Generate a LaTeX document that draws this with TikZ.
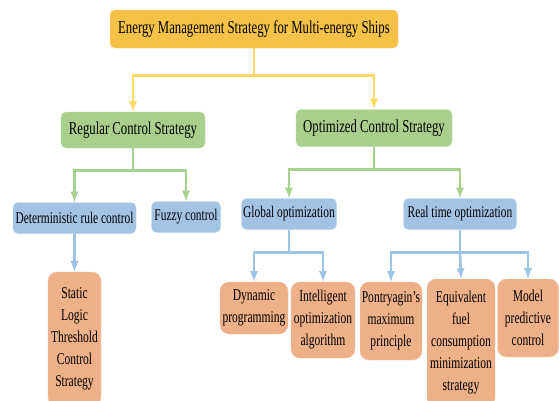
\documentclass[tikz,border=0pt]{standalone}
\usepackage{xcolor}
\usepackage{tikz}
\usepackage{fontspec}
\setmainfont[FakeStretch=0.7]{Liberation Serif}

\definecolor{topgold}{HTML}{F5C146}
\definecolor{boxgreen}{HTML}{A8CF8C}
\definecolor{boxblue}{HTML}{A3C3E5}
\definecolor{boxorange}{HTML}{EDB088}
\definecolor{linegold}{HTML}{FFD966}
\definecolor{linegreen}{HTML}{A9D18E}
\definecolor{lineblue}{HTML}{9DC3E6}

\begin{document}
\begin{tikzpicture}[
        x=1pt, y=-1pt,
        box/.style={rounded corners=5pt, inner sep=0pt, align=center, text=black},
        topbox/.style={box, fill=topgold, draw=topgold!70, font=\fontsize{18.2}{22}\selectfont},
        greenbox/.style={box, fill=boxgreen, draw=boxgreen!70, font=\fontsize{18.2}{22}\selectfont},
        bluebox/.style={box, fill=boxblue, draw=boxblue!70, font=\fontsize{16.3}{19}\selectfont},
        orangebox/.style={box, rounded corners=9pt, fill=boxorange, draw=boxorange!70, font=\fontsize{16.5}{22}\selectfont},
        goldline/.style={draw=linegold, line width=2.6pt},
        greenline/.style={draw=linegreen, line width=2.6pt},
        blueline/.style={draw=lineblue, line width=2.6pt},
    ]
        \useasboundingbox (0,0) rectangle (559,400);

        % Define nodes
        \node (ems) [topbox, minimum width=288pt, minimum height=38pt] at (254,29) {Energy Management Strategy for Multi-energy Ships};

        \node (regular) [greenbox, minimum width=144pt, minimum height=36pt] at (133,130) {Regular Control Strategy};
        \node (optimized) [greenbox, minimum width=156pt, minimum height=37pt] at (374,128) {Optimized Control Strategy};

        \node (rule) [bluebox, minimum width=123pt, minimum height=31pt] at (74.5,218) {Deterministic rule control};
        \node (fuzzy) [bluebox, minimum width=69pt, minimum height=31pt] at (186,217) {Fuzzy control};
        \node (global) [bluebox, minimum width=95pt, minimum height=31pt] at (289,214) {Global optimization};
        \node (realtime) [bluebox, minimum width=113pt, minimum height=31pt] at (460,214) {Real time optimization};

        \node (static) [orangebox, minimum width=53pt, minimum height=134pt] at (74.5,339) {Static\\Logic\\Threshold\\Control\\Strategy};
        \node (dp) [orangebox, minimum width=68pt, minimum height=52pt] at (254,308) {Dynamic\\programming};
        \node (intelligent) [orangebox, minimum width=64pt, minimum height=76pt] at (323,320) {Intelligent\\optimization\\algorithm};
        \node (pmp) [orangebox, minimum width=62pt, minimum height=78pt] at (391,321) {Pontryagin's\\maximum\\principle};
        \node (ecms) [orangebox, minimum width=68pt, minimum height=128pt] at (461,343) {Equivalent\\fuel\\consumption\\minimization\\strategy};
        \node (mpc) [orangebox, minimum width=61pt, minimum height=78pt] at (528,318) {Model\\predictive\\control};

        % Define connectors
        \draw [goldline] (ems.south) -- ++(0,27) coordinate (goldjoin);
        \draw [goldline, -latex] (goldjoin) -| (regular.north);
        \draw [goldline, -latex] (goldjoin) -| (optimized.north);

        \draw [greenline] (regular.south) -- ++(0,22) coordinate (regjoin);
        \draw [greenline, -latex] (regjoin) -| (rule.north);
        \draw [greenline, -latex] (regjoin) -| (fuzzy.north);

        \draw [greenline] (optimized.south) -- ++(0,23) coordinate (optjoin);
        \draw [greenline, -latex] (optjoin) -| (global.north);
        \draw [greenline, -latex] (optjoin) -| (realtime.north);

        \draw [blueline, -latex] (rule.south) -- (static.north);

        \draw [blueline] (global.south) -- ++(0,23) coordinate (globjoin);
        \draw [blueline, -latex] (globjoin) -| (dp.north);
        \draw [blueline, -latex] (globjoin) -| (intelligent.north);

        \draw [blueline] (realtime.south) -- ++(0,23) coordinate (realjoin);
        \draw [blueline, -latex] (realjoin) -| (pmp.north);
        \draw [blueline, -latex] (realjoin) -- (ecms.north);
        \draw [blueline, -latex] (realjoin) -| (mpc.north);
    \end{tikzpicture}
\end{document}
